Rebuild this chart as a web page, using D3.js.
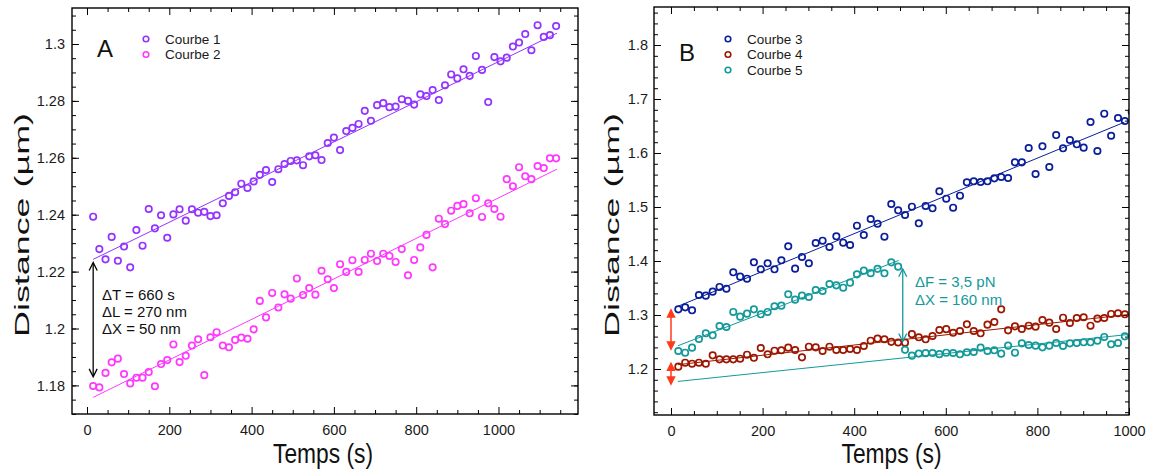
<!DOCTYPE html>
<html><head><meta charset="utf-8">
<script src="https://cdn.jsdelivr.net/npm/d3@7"></script>
<style>body{margin:0;background:#fff}svg{display:block;font-family:"Liberation Sans",Arial,Helvetica,sans-serif}</style>
</head><body><svg id="c" width="1153" height="471"></svg>
<script>
// ---------- DATA ----------
const timeA = [15,30,45,60,75,90,105,120,135,150,165,180,195,210,225,240,255,270,285,300,315,330,345,360,375,390,405,420,435,450,465,480,495,510,525,540,555,570,585,600,615,630,645,660,675,690,705,720,735,750,765,780,795,810,825,840,855,870,885,900,915,930,945,960,975,990,1005,1020,1035,1050,1065,1080,1095,1110,1125,1140];
const courbe1 = [1.2393,1.2279,1.2243,1.2322,1.2238,1.2288,1.2215,1.2346,1.2291,1.2420,1.2352,1.2398,1.2319,1.2401,1.2419,1.2379,1.2419,1.2407,1.2410,1.2395,1.2398,1.2440,1.2466,1.2479,1.2509,1.2494,1.2517,1.2540,1.2557,1.2515,1.2560,1.2578,1.2589,1.2591,1.2574,1.2605,1.2609,1.2592,1.2652,1.2671,1.2627,1.2694,1.2705,1.2719,1.2765,1.2730,1.2785,1.2792,1.2778,1.2780,1.2806,1.2800,1.2787,1.2823,1.2817,1.2838,1.2803,1.2855,1.2893,1.2879,1.2911,1.2888,1.2958,1.2909,1.2796,1.2954,1.2939,1.2952,1.2991,1.3005,1.3035,1.2978,1.3066,1.3025,1.3031,1.3063];
const courbe2 = [1.1798,1.1793,1.1844,1.1881,1.1894,1.1840,1.1807,1.1827,1.1827,1.1847,1.1797,1.1875,1.1889,1.1944,1.1882,1.1904,1.1940,1.1962,1.1836,1.1969,1.1987,1.1940,1.1934,1.1960,1.1968,1.1964,1.1997,1.2097,1.2039,1.2125,1.2074,1.2120,1.2105,1.2176,1.2118,1.2142,1.2119,1.2203,1.2173,1.2142,1.2226,1.2199,1.2240,1.2199,1.2241,1.2263,1.2237,1.2263,1.2255,1.2234,1.2279,1.2187,1.2241,1.2285,1.2329,1.2215,1.2386,1.2367,1.2414,1.2431,1.2437,1.2405,1.2458,1.2392,1.2440,1.2420,1.2393,1.2525,1.2500,1.2567,1.2535,1.2525,1.2571,1.2564,1.2598,1.2598];
const fit1 = [[15,1.2243],[1142,1.3038]];
const fit2 = [[15,1.1758],[1142,1.2560]];

const timeB = [16,31,46,61,76,91,106,121,136,151,166,181,196,211,226,241,256,271,286,301,316,331,346,361,376,391,406,421,436,451,466,481,496,511,526,541,556,571,586,601,616,631,646,661,676,691,706,721,736,751,766,781,796,811,826,841,856,871,886,901,916,931,946,961,976,991,1006];
const courbe3 = [1.3105,1.3142,1.3087,1.3370,1.3358,1.3432,1.3519,1.3487,1.3791,1.3710,1.3672,1.3976,1.3846,1.3957,1.3846,1.4013,1.4272,1.3858,1.4074,1.3957,1.4333,1.4376,1.4259,1.4457,1.4339,1.4296,1.4654,1.4481,1.4778,1.4690,1.4450,1.5056,1.4939,1.4852,1.5006,1.4698,1.5019,1.4976,1.5291,1.5154,1.4987,1.5209,1.5457,1.5476,1.5463,1.5476,1.5531,1.5556,1.5537,1.5827,1.5827,1.6093,1.5611,1.6124,1.5741,1.6333,1.6087,1.6241,1.6161,1.6099,1.6574,1.6037,1.6728,1.6320,1.6648,1.6593,1.6765];
const courbe4 = [1.2043,1.2117,1.2098,1.2117,1.2098,1.2253,1.2179,1.2179,1.2179,1.2191,1.2265,1.2207,1.2389,1.2272,1.2339,1.2346,1.2395,1.2352,1.2216,1.2413,1.2401,1.2333,1.2413,1.2352,1.2352,1.2370,1.2352,1.2426,1.2524,1.2562,1.2550,1.2503,1.2491,1.2488,1.2645,1.2587,1.2550,1.2611,1.2722,1.2738,1.2670,1.2704,1.2828,1.2704,1.2661,1.2821,1.2870,1.3105,1.2716,1.2790,1.2741,1.2802,1.2784,1.2907,1.2858,1.2741,1.2950,1.2852,1.2944,1.2957,1.2802,1.2932,1.2944,1.3019,1.3031,1.3013];
const courbe5 = [1.2333,1.2302,1.2395,1.2556,1.2661,1.2624,1.2796,1.2778,1.3056,1.2969,1.3025,1.3105,1.3013,1.3056,1.3161,1.3173,1.3383,1.3284,1.3358,1.3333,1.3463,1.3444,1.3574,1.3549,1.3506,1.3599,1.3753,1.3821,1.3775,1.3855,1.3772,1.3975,1.3895,1.2355,1.2247,1.2285,1.2293,1.2296,1.2275,1.2302,1.2296,1.2272,1.2309,1.2315,1.2395,1.2333,1.2346,1.2284,1.2432,1.2302,1.2475,1.2444,1.2432,1.2401,1.2432,1.2481,1.2426,1.2475,1.2481,1.2494,1.2494,1.2524,1.2593,1.2457,1.2481,1.2605];
const fit3 = [[15,1.316],[990,1.657]];
const fit4 = [[15,1.208],[1000,1.301]];
const fit5a = [[15,1.243],[497,1.401]];
const fit5b = [[15,1.177],[1000,1.264]];

const xTicksA = [0,200,400,600,800,1000];
const xLabelsA = ["0","200","400","600","800","1000"];
const yTicksA = [1.18,1.2,1.22,1.24,1.26,1.28,1.3];
const yLabelsA = ["1.18","1.2","1.22","1.24","1.26","1.28","1.3"];
const xTicksB = [0,200,400,600,800,1000];
const xLabelsB = ["0","200","400","600","800","1000"];
const yTicksB = [1.2,1.3,1.4,1.5,1.6,1.7,1.8];
const yLabelsB = ["1.2","1.3","1.4","1.5","1.6","1.7","1.8"];

const legendA = ["Courbe 1","Courbe 2"];
const legendB = ["Courbe 3","Courbe 4","Courbe 5"];
const notesA = ["\u0394T = 660 s","\u0394L = 270 nm","\u0394X = 50 nm"];
const notesB = ["\u0394F = 3,5 pN","\u0394X = 160 nm"];
const arrowA = [15, 1.2232, 1.1830];
const arrowB5 = [506, 1.3855, 1.2510];
const arrowsRed = [[0, 1.3093, 1.2370],[0, 1.2105, 1.1722]];

// ---------- STYLE ----------
const C1="#9433ff", C2="#ff38ff", C3="#0a1e9a", C4="#9c1600", C5="#13999a", CR="#ff3a1c";
const FONT='"Liberation Sans",Arial,Helvetica,sans-serif';
const svg=d3.select("#c");

function panel(cfg){
  const g=svg.append("g");
  const x=d3.scaleLinear().domain(cfg.xd).range([cfg.l,cfg.r]);
  const y=d3.scaleLinear().domain(cfg.yd).range([cfg.b,cfg.t]);
  const fix=s=>{s.select(".domain").remove();s.attr("font-family",FONT).attr("font-size",14.5);
    s.selectAll("line").attr("stroke","#000").attr("stroke-width",1);
    s.selectAll("text").attr("fill","#1a1a1a");};
  const add=(axis,tr)=>g.append("g").attr("transform",tr).call(axis).call(fix);
  const xMinor=d3.range(0,cfg.xd[1],50).filter(v=>!cfg.xt.includes(v));
  const yMinor=cfg.ymin.filter(v=>v>cfg.yd[0]&&v<cfg.yd[1]);
  add(d3.axisBottom(x).tickValues(cfg.xt).tickFormat((d,i)=>cfg.xl[i]).tickSize(-7).tickPadding(11),`translate(0,${cfg.b})`);
  add(d3.axisBottom(x).tickValues(xMinor).tickFormat("").tickSize(-4),`translate(0,${cfg.b})`);
  add(d3.axisTop(x).tickValues(cfg.xt).tickFormat("").tickSize(-7),`translate(0,${cfg.t})`);
  add(d3.axisTop(x).tickValues(xMinor).tickFormat("").tickSize(-4),`translate(0,${cfg.t})`);
  add(d3.axisLeft(y).tickValues(cfg.yt).tickFormat((d,i)=>cfg.yl[i]).tickSize(-7).tickPadding(cfg.yp),`translate(${cfg.l},0)`);
  add(d3.axisLeft(y).tickValues(yMinor).tickFormat("").tickSize(-4),`translate(${cfg.l},0)`);
  add(d3.axisRight(y).tickValues(cfg.yt).tickFormat("").tickSize(-7),`translate(${cfg.r},0)`);
  add(d3.axisRight(y).tickValues(yMinor).tickFormat("").tickSize(-4),`translate(${cfg.r},0)`);

  const cid="clip"+cfg.id;
  svg.append("clipPath").attr("id",cid).append("rect").attr("x",cfg.l).attr("y",cfg.t).attr("width",cfg.r-cfg.l).attr("height",cfg.b-cfg.t);
  const pg=g.append("g").attr("clip-path",`url(#${cid})`);
  const line=d3.line().x(d=>x(d[0])).y(d=>y(d[1]));
  cfg.fits.forEach(f=>pg.append("path").attr("d",line(f.d)).attr("fill","none").attr("stroke",f.c).attr("stroke-width",1));
  cfg.series.forEach(s=>{
    const pts=s.v.map((v,i)=>({t:s.t[i],v}));
    pg.selectAll(null).data(pts).enter().append("circle")
      .attr("cx",d=>x(d.t)).attr("cy",d=>y(d.v)).attr("r",3.2)
      .attr("fill","none").attr("stroke",s.c).attr("stroke-width",1.7);
  });
  g.append("rect").attr("x",cfg.l).attr("y",cfg.t).attr("width",cfg.r-cfg.l).attr("height",cfg.b-cfg.t)
    .attr("fill","none").attr("stroke","#000").attr("stroke-width",1.4);

  // axis titles
  g.append("text").attr("x",(cfg.l+cfg.r)/2+cfg.xtOff).attr("y",463).attr("text-anchor","middle")
    .attr("font-family",FONT).attr("font-size",27).attr("textLength",100).attr("lengthAdjust","spacingAndGlyphs")
    .attr("fill","#111").text("Temps (s)");
  g.append("text").attr("transform",`translate(${cfg.ytx},225) rotate(-90)`).attr("text-anchor","middle")
    .attr("font-family",FONT).attr("font-size",21).attr("textLength",224).attr("lengthAdjust","spacingAndGlyphs")
    .attr("fill","#111").text("Distance (\u00b5m)");
  // panel letter
  g.append("text").attr("x",cfg.lx).attr("y",cfg.ly).attr("font-family",FONT).attr("font-size",24).attr("fill","#111").text(cfg.letter);
  // legend
  cfg.legend.forEach((L,i)=>{
    g.append("circle").attr("cx",cfg.legX).attr("cy",cfg.legY+i*cfg.legDy).attr("r",2.8)
      .attr("fill","none").attr("stroke",L.c).attr("stroke-width",1.6);
    g.append("text").attr("x",cfg.legX+19).attr("y",cfg.legY+i*cfg.legDy+4.8).attr("font-family",FONT)
      .attr("font-size",13.5).attr("fill","#1a1a1a").text(L.n);
  });
  return {g,x,y};
}

function arrow(g,x,y1,y2,color,filled,w){
  g.append("line").attr("x1",x).attr("x2",x).attr("y1",y1+1).attr("y2",y2-1).attr("stroke",color).attr("stroke-width",w);
  const hw=filled?3.5:4, hh=filled?7:8;
  [[y1,1],[y2,-1]].forEach(([yy,s])=>{
    const p=`M${x-hw},${yy+s*hh}L${x},${yy}L${x+hw},${yy+s*hh}`;
    g.append("path").attr("d",filled?p+"Z":p).attr("fill",filled?color:"none").attr("stroke",color).attr("stroke-width",w);
  });
}

// Panel A
const A=panel({id:"A",l:72,r:578,t:8,b:414,xd:[-36.45,1193.2],yd:[1.16995,1.31265],
  xt:xTicksA,xl:xLabelsA,yt:yTicksA,yl:yLabelsA,yp:7,
  ymin:d3.range(234,263).map(i=>+(i*0.005).toFixed(3)),
  fits:[{d:fit1,c:C1},{d:fit2,c:C2}],
  series:[{t:timeA,v:courbe1,c:C1},{t:timeA,v:courbe2,c:C2}],
  xtOff:-2,ytx:29,letter:"A",lx:97,ly:57,
  legend:[{n:legendA[0],c:C1},{n:legendA[1],c:C2}],legX:146,legY:39,legDy:15.5});
arrow(A.g,A.x(arrowA[0]),A.y(arrowA[1]),A.y(arrowA[2]),"#000",false,1.3);
notesA.forEach((s,i)=>A.g.append("text").attr("x",102).attr("y",299.5+i*17).attr("font-family",FONT)
  .attr("font-size",15).attr("fill","#111").text(s));

// Panel B
const B=panel({id:"B",l:654,r:1129,t:7,b:415,xd:[-37.1,1000],yd:[1.1148,1.8704],
  xt:xTicksB,xl:xLabelsB,yt:yTicksB,yl:yLabelsB,yp:6,
  ymin:d3.range(56,94).map(i=>+(i*0.02).toFixed(2)),
  fits:[{d:fit3,c:C3},{d:fit4,c:C4},{d:fit5a,c:C5},{d:fit5b,c:C5}],
  series:[{t:timeB,v:courbe3,c:C3},{t:timeB,v:courbe4,c:C4},{t:timeB,v:courbe5,c:C5}],
  xtOff:0,ytx:619,letter:"B",lx:679,ly:61,
  legend:[{n:legendB[0],c:C3},{n:legendB[1],c:C4},{n:legendB[2],c:C5}],legX:728,legY:39,legDy:15.5});
arrow(B.g,B.x(arrowB5[0]),B.y(arrowB5[1]),B.y(arrowB5[2]),C5,false,1.3);
arrowsRed.forEach(a=>arrow(B.g,B.x(a[0]),B.y(a[1]),B.y(a[2]),CR,true,1.5));
notesB.forEach((s,i)=>B.g.append("text").attr("x",915).attr("y",287+i*18).attr("font-family",FONT)
  .attr("font-size",15).attr("fill",C5).text(s));
</script></body></html>
